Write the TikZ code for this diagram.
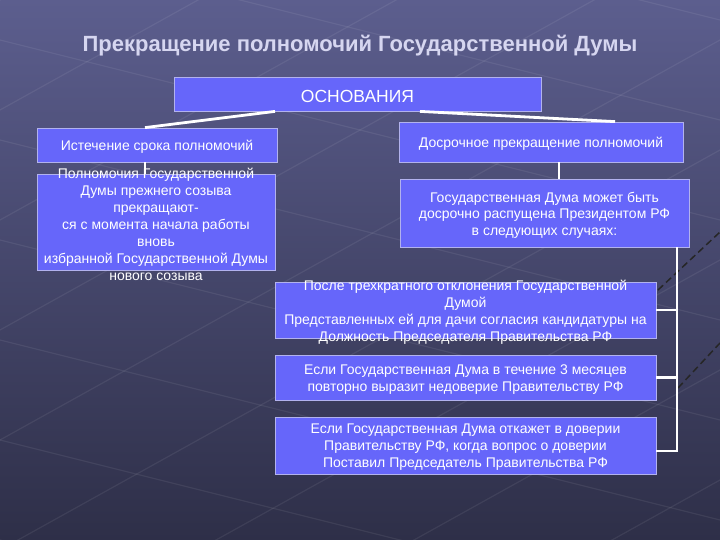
\documentclass[tikz,border=0pt]{standalone}
\usepackage{fontspec}
\setmainfont{Liberation Sans}
\definecolor{boxfill}{RGB}{102,102,250}
\definecolor{boxline}{RGB}{178,178,238}
\definecolor{bgtop}{RGB}{92,94,142}
\definecolor{bgbot}{RGB}{46,47,72}
\definecolor{titlecol}{RGB}{214,214,240}
\begin{document}
\begin{tikzpicture}[x=1pt,y=-1pt,
  box/.style={draw=boxline, line width=0.8pt, fill=boxfill, inner sep=0pt},
  txt/.style={text=white, align=center, font=\fontsize{14}{17}\selectfont, inner sep=0pt, yshift=-2pt},
  conn/.style={draw=white, line width=2.8pt},
  deco/.style={draw=white, opacity=0.07, line width=1.2pt},
  dashdeco/.style={draw=black!85, line width=1.5pt, dash pattern=on 7pt off 4pt}]
\shade[top color=bgtop, bottom color=bgbot] (0,0) rectangle (720,540);
\useasboundingbox (0,0) rectangle (720,540);
\begin{scope}
\clip (0,0) rectangle (720,540);
\foreach \c in {-560,-460,...,800} \draw[deco] (0,\c) -- (720,\c+180);
\foreach \c in {0,110,...,1300} \draw[deco] (0,\c) -- (720,\c-400);
\draw[dashdeco] (658,290) -- (720,232);
\draw[dashdeco] (678,388) -- (720,343);
\end{scope}
% title
\node[text=titlecol, font=\bfseries\fontsize{22}{26}\selectfont] (title) at (360,46) {Прекращение полномочий Государственной Думы};
% boxes
\node[box, minimum width=367pt, minimum height=34pt] (osn) at (357.5,94) {};
\node[box, minimum width=240pt, minimum height=34pt] (b1) at (157,145) {};
\node[box, minimum width=238pt, minimum height=96pt] (b2) at (156,222) {};
\node[box, minimum width=284pt, minimum height=40pt] (r1) at (541,142) {};
\node[box, minimum width=289pt, minimum height=68pt] (r2) at (544.5,213) {};
\node[box, minimum width=381pt, minimum height=56pt] (ba) at (465.5,310) {};
\node[box, minimum width=381pt, minimum height=45pt] (bb) at (465.5,377.5) {};
\node[box, minimum width=381pt, minimum height=57pt] (bc) at (465.5,445.5) {};
% connectors
\coordinate (tr) at ([xshift=132.5pt]r2.south);
\draw[conn] ([xshift=-82.5pt]osn.south) -- ([xshift=-12pt]b1.north);
\draw[conn] ([xshift=62.5pt]osn.south) -- ([xshift=74pt]r1.north);
\draw[conn] ([xshift=-12pt]b1.south) -- ([xshift=-11pt]b2.north);
\draw[conn] ([xshift=18pt]r1.south) -- ([xshift=14.5pt]r2.north);
\draw[conn] (tr) |- ([yshift=-5.5pt]bc.east);
\draw[conn] (ba.east) -- (ba.east -| tr);
\draw[conn] (bb.east) -- (bb.east -| tr);
% texts
\node[txt, font=\fontsize{17.5}{20}\selectfont] (osnt) at (osn) {ОСНОВАНИЯ};
\node[txt] (b1t) at (b1) {Истечение срока полномочий};
\node[txt] (b2t) at (b2) {Полномочия Государственной\\Думы прежнего созыва\\прекращают-\\ся с момента начала работы\\вновь\\избранной Государственной Думы\\нового созыва};
\node[txt] (r1t) at (r1) {Досрочное прекращение полномочий};
\node[txt, font=\fontsize{14}{16.5}\selectfont] (r2t) at (r2) {Государственная Дума может быть\\досрочно распущена Президентом РФ\\в следующих случаях:};
\node[txt] (bat) at (ba) {После трехкратного отклонения Государственной\\Думой\\Представленных ей для дачи согласия кандидатуры на\\Должность Председателя Правительства РФ};
\node[txt] (bbt) at (bb) {Если Государственная Дума в течение 3 месяцев\\повторно выразит недоверие Правительству РФ};
\node[txt] (bct) at (bc) {Если Государственная Дума откажет в доверии\\Правительству РФ, когда вопрос о доверии\\Поставил Председатель Правительства РФ};
\end{tikzpicture}
\end{document}
